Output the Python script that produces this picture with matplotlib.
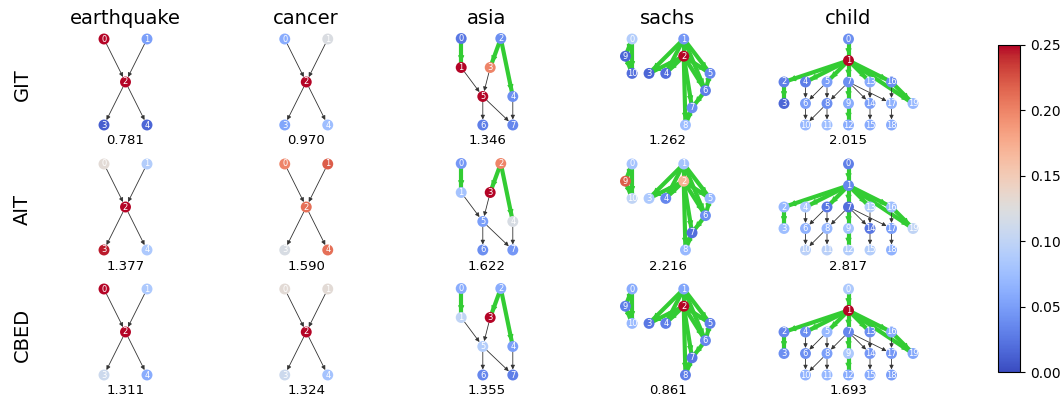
import matplotlib
matplotlib.use("Agg")
import matplotlib.pyplot as plt
from matplotlib.patches import FancyArrowPatch
from matplotlib import cm, colors

# Scores affichés sous chaque graphe
datasets = ["earthquake", "cancer", "asia", "sachs", "child"]
methods = ["GIT", "AIT", "CBED"]
git_scores = [0.781, 0.970, 1.346, 1.262, 2.015]
ait_scores = [1.377, 1.590, 1.622, 2.216, 2.817]
cbed_scores = [1.311, 1.324, 1.355, 0.861, 1.693]

# Valeurs des noeuds (couleur), par méthode
earthquake_git = [0.25, 0.05, 0.25, 0.01, 0.015]
earthquake_ait = [0.13, 0.09, 0.25, 0.245, 0.085]
earthquake_cbed = [0.25, 0.085, 0.25, 0.11, 0.06]

cancer_git = [0.06, 0.122, 0.25, 0.055, 0.075]
cancer_ait = [0.20, 0.22, 0.21, 0.12, 0.21]
cancer_cbed = [0.13, 0.13, 0.25, 0.11, 0.08]

asia_git = [0.025, 0.25, 0.04, 0.20, 0.04, 0.25, 0.03, 0.035]
asia_ait = [0.045, 0.08, 0.20, 0.25, 0.12, 0.05, 0.04, 0.045]
asia_cbed = [0.06, 0.10, 0.06, 0.25, 0.05, 0.09, 0.035, 0.03]

sachs_git = [0.09, 0.045, 0.25, 0.015, 0.02, 0.035, 0.03, 0.04, 0.075, 0.015, 0.02]
sachs_ait = [0.08, 0.08, 0.17, 0.085, 0.035, 0.07, 0.04, 0.02, 0.07, 0.22, 0.10]
sachs_cbed = [0.06, 0.055, 0.25, 0.025, 0.03, 0.03, 0.035, 0.025, 0.03, 0.03, 0.07]

child_git = [0.04, 0.25, 0.03, 0.015, 0.03, 0.05, 0.05, 0.04, 0.04, 0.06,
             0.07, 0.075, 0.06, 0.06, 0.05, 0.06, 0.04, 0.065, 0.06, 0.07]
child_ait = [0.03, 0.035, 0.07, 0.075, 0.085, 0.025, 0.065, 0.02, 0.07, 0.08,
             0.095, 0.095, 0.09, 0.09, 0.025, 0.09, 0.075, 0.05, 0.065, 0.10]
child_cbed = [0.085, 0.25, 0.035, 0.04, 0.04, 0.07, 0.04, 0.035, 0.05, 0.085,
              0.065, 0.07, 0.06, 0.04, 0.045, 0.06, 0.06, 0.045, 0.05, 0.055]

# Arêtes (noires) et arêtes surlignées (vertes)
earthquake_edges = [(0, 2), (1, 2), (2, 3), (2, 4)]
earthquake_green = []
cancer_edges = [(0, 2), (1, 2), (2, 3), (2, 4)]
cancer_green = []
asia_edges = [(1, 5), (3, 5), (5, 6), (5, 7), (4, 7)]
asia_green = [(0, 1), (2, 3), (2, 4)]
sachs_edges = []
sachs_green = [(1, 2), (1, 3), (1, 4), (1, 5), (1, 6), (2, 3), (2, 4), (2, 5), (2, 6),
               (2, 7), (2, 8), (5, 6), (6, 7), (7, 8), (0, 9), (0, 10), (9, 10)]
child_edges = [(4, 6), (5, 6), (5, 8), (7, 8), (7, 14), (7, 17), (13, 14), (16, 17),
               (6, 10), (8, 10), (8, 11), (14, 15), (17, 18)]
child_green = [(0, 1), (1, 2), (1, 4), (1, 5), (1, 7), (1, 13), (1, 16), (1, 19),
               (2, 3), (7, 9), (9, 12), (16, 19)]

# Disposition des noeuds (en pixels autour du centre du panneau)
layout_x = {
    "earthquake": [-21.5, 21.5, 0, -21.5, 21.5],
    "cancer": [-21.5, 21.5, 0, -21.5, 21.5],
    "asia": [-25.8, -25.8, 13.8, 3.2, 25.8, -4.2, -4.2, 25.8],
    "sachs": [-35.7, 16, 16, -18.7, -2, 42.3, 37.7, 24.3, 17.7, -42.3, -35.7],
    "child": [0, 0, -64.5, -64.5, -43, -21.5, -43, 0, -21.5, 0,
              -43, -21.5, 0, 21.5, 21.5, 21.5, 43, 43, 43, 64.5],
}
layout_y = {
    "earthquake": [43, 43, 0, -43, -43],
    "cancer": [43, 43, 0, -43, -43],
    "asia": [43.5, 14.5, 43.5, 14.5, -14.5, -14.5, -43, -43],
    "sachs": [43, 43, 25.8, 8.6, 8.6, 8.6, -8.6, -25.8, -43, 25.8, 8.6],
    "child": [43, 21.5, 0, -21.5, 0, 0, -21.5, 0, -21.5, -21.5,
              -43, -43, -43, 0, -21.5, -43, 0, -21.5, -43, -21.5],
}

values = {
    ("earthquake", 0): earthquake_git, ("earthquake", 1): earthquake_ait, ("earthquake", 2): earthquake_cbed,
    ("cancer", 0): cancer_git, ("cancer", 1): cancer_ait, ("cancer", 2): cancer_cbed,
    ("asia", 0): asia_git, ("asia", 1): asia_ait, ("asia", 2): asia_cbed,
    ("sachs", 0): sachs_git, ("sachs", 1): sachs_ait, ("sachs", 2): sachs_cbed,
    ("child", 0): child_git, ("child", 1): child_ait, ("child", 2): child_cbed,
}
edges = {"earthquake": earthquake_edges, "cancer": cancer_edges, "asia": asia_edges,
         "sachs": sachs_edges, "child": child_edges}
green = {"earthquake": earthquake_green, "cancer": cancer_green, "asia": asia_green,
         "sachs": sachs_green, "child": child_green}
scores = [git_scores, ait_scores, cbed_scores]

W, H = 1063, 398
cmap = plt.get_cmap("coolwarm")
norm = colors.Normalize(vmin=0, vmax=0.25)
VERT = "#33cc33"


def dessiner_graphe(ax, name, vals):
    xs, ys = layout_x[name], layout_y[name]
    # arêtes vertes épaisses
    for a, b in green[name]:
        ax.plot([xs[a], xs[b]], [ys[a], ys[b]], color=VERT, lw=3.0,
                solid_capstyle="butt", zorder=1)
        ax.add_patch(FancyArrowPatch((xs[a], ys[a]), (xs[b], ys[b]), arrowstyle="-|>",
                                     mutation_scale=9, lw=0.8, color=VERT,
                                     shrinkA=4, shrinkB=4, zorder=1))
    # flèches noires fines
    for a, b in edges[name]:
        ax.add_patch(FancyArrowPatch((xs[a], ys[a]), (xs[b], ys[b]), arrowstyle="-|>",
                                     mutation_scale=6, lw=0.6, color="#333333",
                                     shrinkA=4, shrinkB=4, zorder=2))
    ax.scatter(xs, ys, s=62, c=vals, cmap=cmap, norm=norm, zorder=3, linewidths=0)
    for i, (x, y) in enumerate(zip(xs, ys)):
        ax.text(x, y, str(i), color="white", fontsize=6, ha="center", va="center", zorder=4)


fig = plt.figure(figsize=(W / 100, H / 100), dpi=100)

for r in range(3):
    yc = 82 + 125 * r
    for c, name in enumerate(datasets):
        xc = 125.5 + 180.75 * c
        ax = fig.add_axes([(xc - 90) / W, (H - yc - 62) / H, 180 / W, 124 / H])
        ax.set_xlim(-90, 90)
        ax.set_ylim(-62, 62)
        ax.axis("off")
        dessiner_graphe(ax, name, values[(name, r)])
        ax.text(0, -59, f"{scores[r][c]:.3f}", ha="center", va="center", fontsize=9.5)
        if r == 0:
            fig.text(xc / W, 1 - 18 / H, name, ha="center", va="center", fontsize=14)
    fig.text(22 / W, 1 - (85 + 125 * r) / H, methods[r], rotation=90,
             ha="center", va="center", fontsize=14)

cax = fig.add_axes([998 / W, (H - 372) / H, 22 / W, 327 / H])
sm = cm.ScalarMappable(norm=norm, cmap=cmap)
cb = fig.colorbar(sm, cax=cax)
cb.set_ticks([0, 0.05, 0.10, 0.15, 0.20, 0.25])
cb.ax.tick_params(labelsize=10)
cb.ax.yaxis.set_major_formatter(matplotlib.ticker.FormatStrFormatter("%.2f"))

plt.savefig("out.png", dpi=100)
